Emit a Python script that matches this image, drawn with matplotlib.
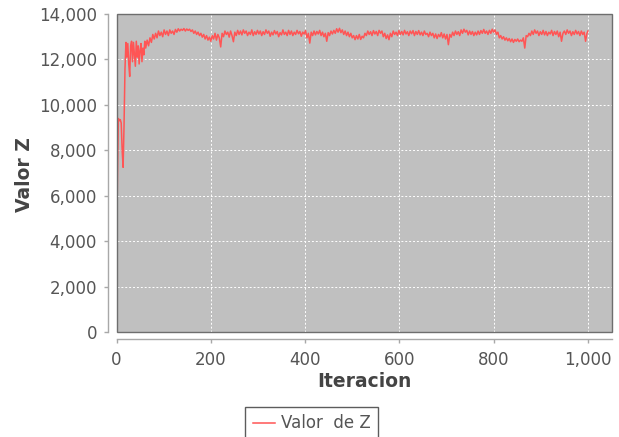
import matplotlib
matplotlib.use("Agg")
import matplotlib.pyplot as plt
from matplotlib.patches import Rectangle
from matplotlib.ticker import FuncFormatter, MultipleLocator

# ---------------- data ----------------
iter_early = [0, 2, 4, 6, 8, 10, 12, 14, 16, 18, 20, 22, 24, 26, 28, 30,
              32, 34, 36, 38, 40, 42, 44, 46, 48, 50, 52, 54, 56, 58, 60]
z_early = [3100, 6800, 9400, 9300, 9350, 9200, 8000, 7250, 9100, 11600,
           12750, 12100, 12700, 11800, 11250, 12600, 12800, 11900, 12750,
           12200, 11700, 12800, 12100, 12600, 11800, 12400, 12700, 11900,
           12500, 12200, 12800]

iter_late = list(range(62, 948, 3))
z_late = [
    12500, 12850, 12600, 12950, 12750, 13100, 12900, 13150, 12950, 13250,   # 62-89
    13050, 13200, 13000, 13300, 13100, 13250, 13050, 13300, 13150, 13250,   # 92-119
    13100, 13320, 13200, 13350, 13250, 13330, 13280, 13360, 13250, 13340,   # 122-149
    13280, 13330, 13230, 13300, 13150, 13250, 13100, 13200, 13050, 13150,   # 152-179
    12980, 13100, 12900, 13050, 12850, 12980, 12800, 13050, 12900, 13150,   # 182-209
    12850, 13100, 12950, 12550, 13150, 13000, 13250, 13100, 13200, 12980,   # 212-239
    13250, 13050, 12780, 13200, 13050, 13280, 13100, 13250, 13080, 13300,   # 242-269
    13150, 13250, 13050, 13200, 13100, 13300, 13050, 13220, 13100, 13280,   # 272-299
    13120, 13250, 13050, 13220, 13100, 13300, 13150, 13250, 13020, 13200,   # 302-329
    13080, 13270, 13120, 13230, 13000, 13180, 13080, 13300, 13100, 13200,   # 332-359
    13050, 13280, 13100, 13250, 13050, 13200, 13100, 13280, 13130, 13230,   # 362-389
    13020, 13200, 13120, 13270, 12950, 13150, 12720, 13200, 13050, 13250,   # 392-419
    13080, 13230, 13120, 13280, 13050, 13200, 13000, 13150, 12800, 13180,   # 422-449
    13050, 13250, 13120, 13280, 13150, 13350, 13200, 13370, 13180, 13300,   # 452-479
    13100, 13250, 13050, 13200, 13000, 13150, 12950, 13050, 12870, 13050,   # 482-509
    12900, 13100, 12880, 13020, 12950, 13150, 13050, 13250, 13100, 13220,   # 512-539
    13050, 13270, 13120, 13230, 13050, 13280, 13150, 13250, 13000, 13150,   # 542-569
    12920, 13080, 12870, 13150, 13000, 13250, 13100, 13200, 13050, 13270,   # 572-599
    13100, 13230, 13080, 13280, 13120, 13220, 13050, 13250, 13130, 13270,   # 602-629
    13050, 13230, 13100, 13270, 13080, 13200, 13050, 13250, 13100, 13150,   # 632-659
    13000, 13200, 13050, 13150, 12950, 13120, 12920, 13100, 13000, 13180,   # 662-689
    12950, 13120, 12900, 13100, 12650, 13100, 12980, 13200, 13050, 13250,   # 692-719
    13100, 13220, 13050, 13300, 13150, 13330, 13200, 13280, 13080, 13250,   # 722-749
    13100, 13230, 13050, 13200, 13080, 13250, 13100, 13270, 13150, 13320,   # 752-779
    13150, 13250, 13100, 13280, 13150, 13330, 13200, 13300, 13100, 13200,   # 782-809
    12950, 13050, 12900, 13000, 12850, 12950, 12820, 12920, 12780, 12900,   # 812-839
    12750, 12880, 12800, 12900, 12780, 12850, 12800, 12950, 12500, 13050,   # 842-869
    13000, 13150, 13050, 13250, 13100, 13300, 13150, 13250, 13050, 13220,   # 872-899
    13100, 13280, 13080, 13230, 13050, 13200, 13120, 13280, 13050, 13230,   # 902-929
    13100, 13250, 13000, 13200, 12800, 13150,                               # 932-947
]
iter_tail = [950, 953, 956, 959, 962, 965, 968, 971, 974, 977, 980, 983,
             986, 989, 992, 995, 998, 1000]
z_tail = [13250, 13100, 13300, 13150, 13250, 13050, 13220, 13100, 13280,
          13120, 13230, 13050, 13250, 13100, 13200, 12800, 13150, 13250]

iteraciones = iter_early + iter_late + iter_tail
valor_z = z_early + z_late + z_tail

series_label = "Valor  de Z"
x_label = "Iteracion"
y_label = "Valor Z"

# ---------------- figure ----------------
W, H = 619, 437
fig = plt.figure(figsize=(W / 100, H / 100), dpi=100)
fig.patch.set_facecolor("white")

left, right, top, bottom = 116.5, 611.5, 14, 332
ax = fig.add_axes([left / W, 1 - bottom / H, (right - left) / W, (bottom - top) / H])
ax.set_facecolor("#C0C0C0")

ax.plot(iteraciones, valor_z, color="#FF5555", lw=1.1, zorder=3, label=series_label)

ax.set_xlim(0, 1050)
ax.set_ylim(0, 14000)
ax.xaxis.set_major_locator(MultipleLocator(200))
ax.yaxis.set_major_locator(MultipleLocator(2000))
fmt = FuncFormatter(lambda v, p: f"{int(v):,}")
ax.xaxis.set_major_formatter(fmt)
ax.yaxis.set_major_formatter(fmt)

ax.grid(True, color="white", linestyle=(0, (2, 2)), linewidth=0.7, zorder=1)
ax.set_axisbelow(True)

ax.add_patch(Rectangle((0, 0), 1, 1, transform=ax.transAxes, fill=False,
                       edgecolor="#6E6E6E", linewidth=1.0, zorder=5, clip_on=False))

for s in ["top", "right"]:
    ax.spines[s].set_visible(False)
ax.spines["left"].set_position(("outward", 6))
ax.spines["bottom"].set_position(("outward", 5))
for s in ["left", "bottom"]:
    ax.spines[s].set_color("#A8A8A8")
    ax.spines[s].set_linewidth(1.0)

ax.tick_params(axis="both", colors="#A8A8A8", length=3, width=1.0,
               labelsize=12, labelcolor="#555555")
ax.tick_params(axis="y", pad=5)
ax.tick_params(axis="x", pad=6)

fig.text(364 / W, 1 - 381.5 / H, x_label, ha="center", va="center",
         fontsize=13.5, fontweight="bold", color="#444444")
fig.text(24 / W, 1 - 175 / H, y_label, ha="center", va="center", rotation=90,
         fontsize=13.5, fontweight="bold", color="#444444")

leg = fig.legend(loc="upper left", bbox_to_anchor=(245 / W, 1 - 407 / H),
                 fontsize=12, frameon=True, fancybox=False, borderpad=0.45,
                 handlelength=1.35, handletextpad=0.35, borderaxespad=0)
leg.get_frame().set_edgecolor("#333333")
leg.get_frame().set_linewidth(1.0)
for t in leg.get_texts():
    t.set_color("#555555")

fig.savefig("out.png", dpi=100)
